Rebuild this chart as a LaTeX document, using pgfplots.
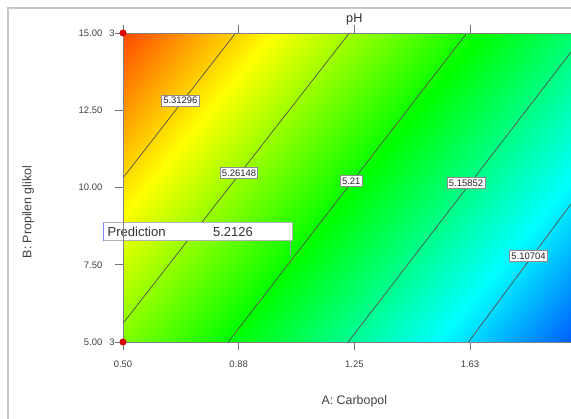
\documentclass[border=0pt]{standalone}
\usepackage{pgfplots}
\usepackage{pgfplotstable}
\pgfplotsset{compat=1.18}
\usepackage{fontspec}
\setmainfont{Liberation Sans}
\tikzset{lbl/.style={draw=black!45, fill=white, inner xsep=1.3pt, inner ysep=1.6pt, font=\fontsize{7.1}{8}\selectfont, text=black!85, line width=0.5pt}}
\pgfplotstableread{
x y z
0.5 5 5.2551
0.875 5 5.2055
1.25 5 5.1559
1.625 5 5.1063
2.0 5 5.0567
0.5 7.5 5.2824
0.875 7.5 5.2328
1.25 7.5 5.1832
1.625 7.5 5.1336
2.0 7.5 5.0840
0.5 10 5.3098
0.875 10 5.2602
1.25 10 5.2106
1.625 10 5.1610
2.0 10 5.1114
0.5 12.5 5.3371
0.875 12.5 5.2875
1.25 12.5 5.2379
1.625 12.5 5.1883
2.0 12.5 5.1387
0.5 15 5.3644
0.875 15 5.3148
1.25 15 5.2652
1.625 15 5.2156
2.0 15 5.1660
}\surfdata
\begin{document}
\begin{tikzpicture}[x=1pt,y=1pt]
\useasboundingbox (0,0) rectangle (428.25,313.5);
\clip (0,0) rectangle (428.25,313.5);
\fill[white] (0,0) rectangle (428.25,313.5);
\draw[black!22, line width=0.9pt] (6,-5) -- (6,307.5) -- (440,307.5);
\begin{axis}[
  at={(92.25pt,57pt)}, anchor=south west,
  scale only axis, width=347pt, height=231.75pt,
  view={0}{90},
  xmin=0.5, xmax=2.0, ymin=5, ymax=15, zmin=5, zmax=5.5,
  ztick=\empty,
  point meta min=5.03, point meta max=5.39,
  colormap={dx}{rgb255=(0,0,255) rgb255=(0,255,255) rgb255=(0,255,0) rgb255=(255,255,0) rgb255=(255,0,0)},
  xtick={0.5,0.875,1.25,1.625,2.0}, xticklabels={0.50,0.88,1.25,1.63,{}},
  ytick={5,7.5,10,12.5,15}, yticklabels={5.00,7.50,10.00,12.50,15.00},
  tick align=outside, major tick length=6pt,
  tick style={black!55, line width=0.5pt},
  ticklabel style={font=\fontsize{7.1}{8}\selectfont, text=black!75},
  xticklabel style={yshift=-4.5pt},
  yticklabel style={xshift=-6pt},
  axis line style={black!50, line width=0.6pt},
  axis on top, clip=false,
  title={pH},
  title style={at={(axis description cs:0.5,1.0195)}, anchor=center, font=\fontsize{9.5}{11}\selectfont, text=black!80},
  xlabel={A: Carbopol},
  ylabel={B: Propilen glikol},
  xlabel style={at={(axis description cs:0.5,-0.191)}, anchor=center, font=\fontsize{9.3}{11}\selectfont, text=black!75},
  ylabel style={at={(axis description cs:-0.205,0.4207)}, anchor=center, font=\fontsize{9.3}{11}\selectfont, text=black!75},
]
\addplot3[surf, shader=interp, mesh/cols=5] table[x=x, y=y, z=z] {\surfdata};
\addplot3[black!70, line width=0.5pt] coordinates {(0.5,10.31,5.45) (0.865,15,5.45)};
\addplot3[black!70, line width=0.5pt] coordinates {(0.5,5.6,5.45) (1.234,15,5.45)};
\addplot3[black!70, line width=0.5pt] coordinates {(0.841,5,5.45) (1.615,15,5.45)};
\addplot3[black!70, line width=0.5pt] coordinates {(1.23,5,5.45) (2.0,15,5.45)};
\addplot3[black!70, line width=0.5pt] coordinates {(1.62,5,5.45) (2.0,10.1,5.45)};
\node[lbl] at (axis cs:0.686,12.82,5.46) {5.31296};
\node[lbl] at (axis cs:0.876,10.47,5.46) {5.26148};
\node[lbl] at (axis cs:1.240,10.21,5.46) {5.21};
\node[lbl] at (axis cs:1.612,10.15,5.46) {5.15852};
\node[lbl] at (axis cs:1.815,7.78,5.46) {5.10704};
\addplot3[only marks, mark=*, mark size=2.4pt, color={rgb,255:red,215;green,0;blue,0}] coordinates {(0.5,15,5.47) (0.5,5,5.47)};
\node[font=\fontsize{7}{8}\selectfont, text=black!75] at (axis cs:0.464,15,5.47) {3};
\node[font=\fontsize{7}{8}\selectfont, text=black!75] at (axis cs:0.464,5,5.47) {3};
\draw[blue!40!black!40, line width=0.5pt] (axis cs:1.042,8.27,5.47) -- (axis cs:1.042,7.82,5.47);
\node[draw=black!30, fill=white, line width=0.5pt, anchor=south west, minimum width=141.75pt, minimum height=13.5pt, inner sep=0pt] at (axis cs:0.436,8.27,5.48) {};
\draw[blue!50, line width=0.6pt] (axis cs:0.436,8.27,5.49) -- (axis cs:0.436,8.85,5.49);
\node[anchor=west, font=\fontsize{9.8}{11}\selectfont, text=black!80, inner sep=0pt] at (axis cs:0.449,8.56,5.49) {Prediction};
\node[anchor=west, font=\fontsize{9.8}{11}\selectfont, text=black!80, inner sep=0pt] at (axis cs:0.791,8.56,5.49) {5.2126};
\end{axis}
\end{tikzpicture}
\end{document}
